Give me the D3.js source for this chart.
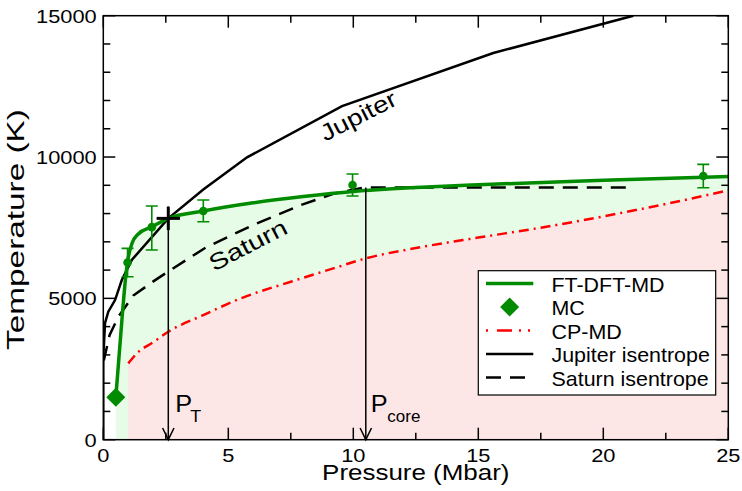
<!DOCTYPE html>
<html><head><meta charset="utf-8">
<script src="https://cdn.jsdelivr.net/npm/d3@7"></script>
<style>
body{margin:0;background:#fff}
svg{display:block}
text{font-family:"Liberation Sans",Arial,Helvetica,sans-serif;fill:#000}
</style>
</head><body>
<svg id="chart" width="742" height="491"></svg>
<script>
// ---------------- data ----------------
// FT-DFT-MD melting curve (P in Mbar, T in K)
const ftP = [0.5, 0.75, 0.9, 1.0, 1.15, 1.4, 1.94, 2.6, 4.0, 6.0, 8.0, 10.0, 12.5, 15.0, 20.0, 25.0];
const ftT = [1500, 4300, 5800, 6450, 6950, 7280, 7530, 7830, 8090, 8380, 8600, 8780, 8920, 9020, 9180, 9310];
// FT-DFT-MD points with error bars
const ptP  = [0.97, 1.94, 4.0, 9.97, 24.0];
const ptT  = [6270, 7520, 8090, 9010, 9330];
const ptLo = [5765, 6710, 7710, 8620, 8913];
const ptHi = [6770, 8266, 8478, 9398, 9741];
// MC point
const mcP = [0.5];
const mcT = [1500];
// CP-MD curve
const cpP = [1.0, 1.34, 2.0, 2.6, 4.0, 5.5, 7.5, 9.2, 10.5, 12.5, 15.0, 17.5, 20.0, 22.5, 25.0];
const cpT = [2700, 3055, 3450, 3820, 4410, 5000, 5590, 6060, 6415, 6780, 7150, 7500, 7900, 8340, 8820];
// Jupiter isentrope
const jupP = [0, 0.0, 0.07, 0.2, 0.47, 0.74, 1.14, 2.6, 4.0, 5.75, 9.55, 15.6, 21.2];
const jupT = [0, 2940, 4130, 4530, 4940, 5650, 6360, 7830, 8850, 9990, 11800, 13680, 15000];
// Saturn isentrope
const satP = [0.02, 0.25, 0.6, 1.2, 2.0, 2.6, 4.1, 6.0, 7.9, 9.2, 10.4, 21.2];
const satT = [2800, 3700, 4350, 5100, 5600, 5950, 6800, 7600, 8300, 8700, 8920, 8920];
// annotations
const pTransition = [2.6], tTransition = [7830];
const pCore = [10.5], tCore = [8920];
const jupiterLabel = "Jupiter", saturnLabel = "Saturn";
// axes
const xTicks = [0, 5, 10, 15, 20, 25];
const xMinor = [2.5, 7.5, 12.5, 17.5, 22.5];
const yTicks = [0, 5000, 10000, 15000];
const yMinor = [1000, 2000, 3000, 4000, 6000, 7000, 8000, 9000, 11000, 12000, 13000, 14000];
const xTitle = "Pressure (Mbar)", yTitle = "Temperature (K)";
const legendLabels = ["FT-DFT-MD", "MC", "CP-MD", "Jupiter isentrope", "Saturn isentrope"];

// ---------------- drawing ----------------
const GREEN = "#008b00", RED = "#ff0000";
const svg = d3.select("#chart");
const x = d3.scaleLinear().domain([0, 25]).range([103.3, 728.3]);
const y = d3.scaleLinear().domain([0, 15000]).range([439.7, 15.7]);
const [X0, X1] = x.range(), [Y0, Y1] = y.range();

svg.append("defs").append("clipPath").attr("id", "clip")
  .append("rect").attr("x", X0).attr("y", Y1).attr("width", X1 - X0).attr("height", Y0 - Y1);
const plot = svg.append("g").attr("clip-path", "url(#clip)");

const zip = (a, b) => a.map((v, i) => [v, b[i]]);
const ft = zip(ftP, ftT), cp = zip(cpP, cpT), jup = zip(jupP, jupT), sat = zip(satP, satT);

// fills
const area = d3.area().x(d => x(d[0])).y0(y(0)).y1(d => y(d[1]));
plot.append("path").datum(ft).attr("d", area.curve(d3.curveMonotoneX)).attr("fill", "#e6fce6");
plot.append("path").datum(cp).attr("d", area.curve(d3.curveMonotoneX)).attr("fill", "#fde6e6");

const lineMono = d3.line().x(d => x(d[0])).y(d => y(d[1])).curve(d3.curveMonotoneX);
const lineLin = d3.line().x(d => x(d[0])).y(d => y(d[1]));

// CP-MD
plot.append("path").datum(cp).attr("d", lineMono).attr("fill", "none")
  .attr("stroke", RED).attr("stroke-width", 2.5).attr("stroke-dasharray", "10 5 2 5");
// Saturn
plot.append("path").datum(sat).attr("d", lineLin).attr("fill", "none")
  .attr("stroke", "#000").attr("stroke-width", 2.5).attr("stroke-dasharray", "15 9");
// Jupiter
plot.append("path").datum(jup).attr("d", lineLin).attr("fill", "none")
  .attr("stroke", "#000").attr("stroke-width", 2.5);
// FT-DFT-MD
plot.append("path").datum(ft).attr("d", lineMono).attr("fill", "none")
  .attr("stroke", GREEN).attr("stroke-width", 3.5);

// error bars + points
const eb = plot.append("g").attr("stroke", GREEN).attr("stroke-width", 1.6);
ptP.forEach((p, i) => {
  const cx = x(p);
  eb.append("line").attr("x1", cx).attr("x2", cx).attr("y1", y(ptLo[i])).attr("y2", y(ptHi[i]));
  eb.append("line").attr("x1", cx - 6).attr("x2", cx + 6).attr("y1", y(ptLo[i])).attr("y2", y(ptLo[i]));
  eb.append("line").attr("x1", cx - 6).attr("x2", cx + 6).attr("y1", y(ptHi[i])).attr("y2", y(ptHi[i]));
  plot.append("circle").attr("cx", cx).attr("cy", y(ptT[i])).attr("r", 4.3).attr("fill", GREEN);
});
const diamond = (cx, cy, r) => `M${cx},${cy - r}L${cx + r},${cy}L${cx},${cy + r}L${cx - r},${cy}Z`;
mcP.forEach((p, i) => {
  plot.append("path").attr("d", diamond(x(p), y(mcT[i]), 9.5)).attr("fill", GREEN);
});

// text helper
function label(g, s, px, py, size, sx, anchor, rot) {
  return g.append("text")
    .attr("transform", `translate(${px},${py}) rotate(${rot || 0}) scale(${sx},1)`)
    .attr("text-anchor", anchor || "start")
    .attr("font-size", size).text(s);
}

// arrows P_T and P_core
function arrow(p, t) {
  const ax = x(p);
  svg.append("line").attr("x1", ax).attr("x2", ax).attr("y1", y(t)).attr("y2", Y0)
    .attr("stroke", "#000").attr("stroke-width", 1.5);
  svg.append("path").attr("d", `M${ax - 5.7},${Y0 - 11.7}L${ax},${Y0}L${ax + 5.7},${Y0 - 11.7}`)
    .attr("fill", "none").attr("stroke", "#000").attr("stroke-width", 1.5);
}
arrow(pTransition[0], tTransition[0] + 420);
arrow(pCore[0], tCore[0]);
// cross marker at P_T
{
  const cx = x(pTransition[0]), cy = y(tTransition[0]);
  svg.append("line").attr("x1", cx - 11.7).attr("x2", cx + 11.7).attr("y1", cy).attr("y2", cy)
    .attr("stroke", "#000").attr("stroke-width", 3);
  svg.append("line").attr("x1", cx).attr("x2", cx).attr("y1", cy - 11.7).attr("y2", cy + 11.7)
    .attr("stroke", "#000").attr("stroke-width", 3);
}
// labels
label(svg, "P", x(pTransition[0]) + 7, 411.7, 23, 1.1);
label(svg, "T", x(pTransition[0]) + 22, 421.7, 17, 1.05);
label(svg, "P", x(pCore[0]) + 5, 411.7, 23, 1.1);
label(svg, "core", x(pCore[0]) + 21.5, 421.7, 17, 1.0);
label(svg, jupiterLabel, 325, 141.7, 23, 1.2, "start", -27);
label(svg, saturnLabel, 214, 271.7, 23, 1.25, "start", -27.5);

// legend
const lg = svg.append("g");
lg.append("rect").attr("x", 478.3).attr("y", 270.7).attr("width", 237.4).attr("height", 124.3)
  .attr("fill", "#fff").attr("stroke", "#000").attr("stroke-width", 1.2);
const rowY = i => 283.5 + i * 23.5;
const lx0 = 486, lx1 = 533.3, ltx = 551.5;
lg.append("line").attr("x1", lx0).attr("x2", lx1).attr("y1", rowY(0)).attr("y2", rowY(0))
  .attr("stroke", GREEN).attr("stroke-width", 3.5);
lg.append("path").attr("d", diamond((lx0 + lx1) / 2, rowY(1), 9.5)).attr("fill", GREEN);
lg.append("line").attr("x1", lx0).attr("x2", lx1).attr("y1", rowY(2)).attr("y2", rowY(2))
  .attr("stroke", RED).attr("stroke-width", 2.5).attr("stroke-dasharray", "2 9 15 7 2 7 2 9");
lg.append("line").attr("x1", lx0).attr("x2", lx1).attr("y1", rowY(3)).attr("y2", rowY(3))
  .attr("stroke", "#000").attr("stroke-width", 2.5);
lg.append("line").attr("x1", lx0).attr("x2", lx1).attr("y1", rowY(4)).attr("y2", rowY(4))
  .attr("stroke", "#000").attr("stroke-width", 2.5).attr("stroke-dasharray", "15 9");
legendLabels.forEach((s, i) => label(lg, s, ltx, rowY(i) + 8, 21, 1.02));

// frame and ticks
const ax = svg.append("g").attr("stroke", "#000").attr("stroke-width", 1.5);
ax.append("rect").attr("x", X0).attr("y", Y1).attr("width", X1 - X0).attr("height", Y0 - Y1).attr("fill", "none");
xTicks.forEach(t => {
  ax.append("line").attr("x1", x(t)).attr("x2", x(t)).attr("y1", Y0).attr("y2", Y0 - 12);
  ax.append("line").attr("x1", x(t)).attr("x2", x(t)).attr("y1", Y1).attr("y2", Y1 + 12);
});
xMinor.forEach(t => {
  ax.append("line").attr("x1", x(t)).attr("x2", x(t)).attr("y1", Y0).attr("y2", Y0 - 7);
  ax.append("line").attr("x1", x(t)).attr("x2", x(t)).attr("y1", Y1).attr("y2", Y1 + 7);
});
yTicks.forEach(t => {
  ax.append("line").attr("x1", X0).attr("x2", X0 + 12).attr("y1", y(t)).attr("y2", y(t));
  ax.append("line").attr("x1", X1).attr("x2", X1 - 12).attr("y1", y(t)).attr("y2", y(t));
});
yMinor.forEach(t => {
  ax.append("line").attr("x1", X0).attr("x2", X0 + 7).attr("y1", y(t)).attr("y2", y(t));
  ax.append("line").attr("x1", X1).attr("x2", X1 - 7).attr("y1", y(t)).attr("y2", y(t));
});
// tick labels
xTicks.forEach(t => label(svg, String(t), x(t), 461.7, 18.5, 1.18, "middle"));
yTicks.forEach(t => label(svg, String(t), 96.7, y(t) + 7, 18.5, 1.18, "end"));
// titles
label(svg, xTitle, (X0 + X1) / 2, 480, 22, 1.18, "middle");
label(svg, yTitle, 24, 229.5, 23, 1.45, "middle", -90);
</script>
</body></html>
